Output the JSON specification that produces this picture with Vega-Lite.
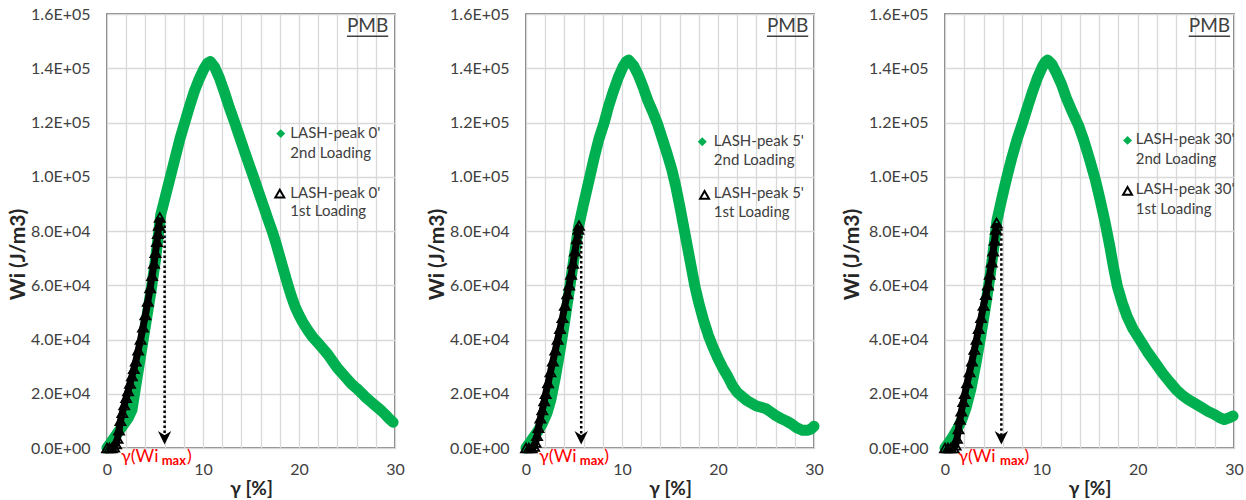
{
  "$schema": "https://vega.github.io/schema/vega-lite/v6.json",
  "padding": {"left": 6, "top": 5, "right": 0, "bottom": 0},
  "background": "white",
  "bounds": "flush",
  "spacing": 131,
  "config": {
    "font": "Lato, 'Open Sans', 'DejaVu Sans'",
    "view": {"stroke": "#595959", "strokeWidth": 1.5},
    "axis": {
      "grid": true, "gridColor": "#d9d9d9", "gridWidth": 1.3, "ticks": false, "domain": false,
      "labelFontSize": 16, "labelColor": "#404040", "labelOverlap": false, "labelFlush": false, "labelBound": false,
      "titleFontSize": 19, "titleFontWeight": "bold", "titleColor": "#262626"
    },
    "axisX": {"labelPadding": 13, "titlePadding": 2},
    "axisY": {"labelPadding": 17, "titleX": -89, "titleY": 240, "titleBaseline": "middle", "titleAngle": -90, "titleFontSize": 21}
  },
  "datasets": {
    "g1": [{"x":0,"y":0},{"x":0.3,"y":1500},{"x":0.7,"y":3500},{"x":1.2,"y":6000},{"x":1.7,"y":8500},{"x":2.2,"y":11000},{"x":2.6,"y":14000},{"x":3.0,"y":23000},{"x":3.5,"y":34000},{"x":4.0,"y":45000},{"x":4.5,"y":56000},{"x":5.0,"y":68000},{"x":5.3,"y":77000},{"x":5.6,"y":86000},{"x":6.1,"y":93000},{"x":6.6,"y":100000},{"x":7.1,"y":107000},{"x":7.6,"y":114000},{"x":8.1,"y":120000},{"x":8.6,"y":126000},{"x":9.1,"y":131500},{"x":9.6,"y":136000},{"x":10.1,"y":139800},{"x":10.45,"y":141800},{"x":10.75,"y":142500},{"x":11.2,"y":140500},{"x":11.7,"y":136500},{"x":12.2,"y":131500},{"x":12.75,"y":125500},{"x":13.3,"y":120000},{"x":13.8,"y":114800},{"x":14.3,"y":109600},{"x":14.8,"y":104500},{"x":15.3,"y":99500},{"x":15.8,"y":94300},{"x":16.3,"y":89200},{"x":16.8,"y":84000},{"x":17.2,"y":80000},{"x":17.6,"y":75500},{"x":18.0,"y":70500},{"x":18.4,"y":65500},{"x":18.85,"y":60000},{"x":19.2,"y":56000},{"x":19.6,"y":52000},{"x":20.0,"y":49000},{"x":20.4,"y":46300},{"x":20.9,"y":43500},{"x":21.4,"y":41000},{"x":21.9,"y":39000},{"x":22.4,"y":37000},{"x":23.0,"y":34500},{"x":23.5,"y":32000},{"x":24.0,"y":29500},{"x":24.5,"y":27500},{"x":25.0,"y":25500},{"x":25.5,"y":23500},{"x":26.0,"y":22000},{"x":26.5,"y":20300},{"x":27.0,"y":18500},{"x":27.5,"y":17000},{"x":28.0,"y":15500},{"x":28.5,"y":14000},{"x":29.0,"y":12300},{"x":29.4,"y":10800},{"x":29.8,"y":9500}],
    "b1": [{"x":0,"y":0},{"x":0.25,"y":0},{"x":0.5,"y":0},{"x":0.75,"y":300},{"x":0.95,"y":1500},{"x":1.1,"y":3500},{"x":1.25,"y":6500},{"x":1.4,"y":10000},{"x":1.6,"y":13000},{"x":1.8,"y":15800},{"x":2.0,"y":18500},{"x":2.2,"y":21000},{"x":2.4,"y":23800},{"x":2.6,"y":26500},{"x":2.8,"y":29200},{"x":3.0,"y":32000},{"x":3.25,"y":36000},{"x":3.5,"y":40000},{"x":3.75,"y":44500},{"x":4.0,"y":49000},{"x":4.25,"y":54000},{"x":4.5,"y":59000},{"x":4.7,"y":63500},{"x":4.9,"y":68000},{"x":5.05,"y":72000},{"x":5.2,"y":76000},{"x":5.3,"y":79000},{"x":5.4,"y":82000},{"x":5.5,"y":85000}],
    "g2": [{"x":0,"y":0},{"x":0.3,"y":1500},{"x":0.7,"y":3500},{"x":1.2,"y":6000},{"x":1.7,"y":9000},{"x":2.2,"y":13000},{"x":2.6,"y":18000},{"x":3.0,"y":25000},{"x":3.5,"y":35000},{"x":4.0,"y":46000},{"x":4.5,"y":58000},{"x":5.0,"y":70000},{"x":5.5,"y":82000},{"x":6.0,"y":90000},{"x":6.65,"y":100000},{"x":7.1,"y":107000},{"x":7.6,"y":114000},{"x":8.15,"y":120000},{"x":8.6,"y":126000},{"x":9.1,"y":131500},{"x":9.6,"y":136500},{"x":10.1,"y":140500},{"x":10.45,"y":142500},{"x":10.7,"y":143000},{"x":11.2,"y":141000},{"x":11.7,"y":137500},{"x":12.2,"y":133000},{"x":12.7,"y":128000},{"x":13.2,"y":124000},{"x":13.7,"y":119500},{"x":14.2,"y":114000},{"x":14.7,"y":108500},{"x":15.2,"y":102500},{"x":15.6,"y":96500},{"x":16.0,"y":89500},{"x":16.4,"y":82000},{"x":16.8,"y":74500},{"x":17.2,"y":67000},{"x":17.6,"y":59500},{"x":18.0,"y":53500},{"x":18.5,"y":47000},{"x":19.0,"y":41500},{"x":19.5,"y":37000},{"x":20.0,"y":33000},{"x":20.5,"y":29500},{"x":21.0,"y":26500},{"x":21.5,"y":23000},{"x":22.0,"y":20500},{"x":22.5,"y":19000},{"x":23.0,"y":17500},{"x":23.5,"y":16500},{"x":24.0,"y":15500},{"x":24.5,"y":15000},{"x":25.0,"y":14500},{"x":25.4,"y":13500},{"x":26.0,"y":12000},{"x":26.5,"y":11000},{"x":27.1,"y":10000},{"x":27.6,"y":9000},{"x":28.2,"y":7500},{"x":28.8,"y":6500},{"x":29.3,"y":6500},{"x":29.7,"y":7000},{"x":30.0,"y":8000}],
    "b2": [{"x":0,"y":0},{"x":0.3,"y":0},{"x":0.6,"y":0},{"x":0.85,"y":500},{"x":1.0,"y":2000},{"x":1.15,"y":4500},{"x":1.3,"y":7500},{"x":1.5,"y":11000},{"x":1.7,"y":14000},{"x":1.9,"y":17300},{"x":2.05,"y":20000},{"x":2.3,"y":24000},{"x":2.55,"y":28000},{"x":2.8,"y":32000},{"x":3.05,"y":36000},{"x":3.3,"y":40000},{"x":3.55,"y":44000},{"x":3.8,"y":48000},{"x":4.05,"y":52500},{"x":4.3,"y":56800},{"x":4.5,"y":60000},{"x":4.7,"y":64000},{"x":4.9,"y":68000},{"x":5.1,"y":72500},{"x":5.3,"y":77000},{"x":5.45,"y":80500},{"x":5.52,"y":82000}],
    "g3": [{"x":0,"y":0},{"x":0.3,"y":1500},{"x":0.7,"y":3500},{"x":1.2,"y":6500},{"x":1.7,"y":10000},{"x":2.2,"y":15000},{"x":2.7,"y":22000},{"x":3.2,"y":31000},{"x":3.7,"y":41000},{"x":4.2,"y":52000},{"x":4.7,"y":64000},{"x":5.1,"y":75000},{"x":5.4,"y":84000},{"x":5.9,"y":92000},{"x":6.43,"y":100000},{"x":6.9,"y":106500},{"x":7.5,"y":114000},{"x":8.07,"y":120000},{"x":8.6,"y":126000},{"x":9.1,"y":131500},{"x":9.6,"y":136500},{"x":10.1,"y":140500},{"x":10.4,"y":142300},{"x":10.65,"y":143000},{"x":11.1,"y":141500},{"x":11.6,"y":138000},{"x":12.1,"y":134000},{"x":12.6,"y":129000},{"x":13.2,"y":124000},{"x":13.85,"y":119000},{"x":14.4,"y":113500},{"x":15.0,"y":106500},{"x":15.6,"y":99000},{"x":16.1,"y":91500},{"x":16.6,"y":83500},{"x":17.1,"y":74500},{"x":17.5,"y":66500},{"x":17.9,"y":59500},{"x":18.4,"y":53500},{"x":18.9,"y":48500},{"x":19.5,"y":44000},{"x":20.3,"y":39500},{"x":21.0,"y":35500},{"x":21.8,"y":31500},{"x":22.6,"y":27500},{"x":23.4,"y":24000},{"x":24.0,"y":21500},{"x":24.6,"y":19500},{"x":25.2,"y":18000},{"x":25.9,"y":16500},{"x":26.6,"y":15000},{"x":27.3,"y":13500},{"x":28.0,"y":12300},{"x":28.5,"y":11200},{"x":29.0,"y":10500},{"x":29.4,"y":11000},{"x":29.9,"y":11800}],
    "b3": [{"x":0,"y":0},{"x":0.3,"y":0},{"x":0.6,"y":0},{"x":0.9,"y":0},{"x":1.1,"y":1000},{"x":1.25,"y":3500},{"x":1.4,"y":7000},{"x":1.55,"y":10500},{"x":1.7,"y":13500},{"x":1.9,"y":17000},{"x":2.06,"y":20000},{"x":2.3,"y":24000},{"x":2.55,"y":28000},{"x":2.8,"y":32000},{"x":3.05,"y":36300},{"x":3.27,"y":40000},{"x":3.5,"y":44000},{"x":3.75,"y":48000},{"x":4.0,"y":52500},{"x":4.25,"y":56500},{"x":4.46,"y":60000},{"x":4.65,"y":64000},{"x":4.85,"y":68500},{"x":5.0,"y":72500},{"x":5.15,"y":76500},{"x":5.28,"y":80500},{"x":5.36,"y":83000}],
    "arrow": [{"p":1,"x":6.0,"y":82000,"y2":3800},{"p":2,"x":5.75,"y":80000,"y2":3800},{"p":3,"x":5.85,"y":81000,"y2":3800}],
    "legsym": [{"p":1,"s":"2nd","x":18.1,"y":115900},{"p":1,"s":"1st","x":18.0,"y":93800},{"p":2,"s":"2nd","x":18.36,"y":112900},{"p":2,"s":"1st","x":18.6,"y":93300},{"p":3,"s":"2nd","x":18.95,"y":113400},{"p":3,"s":"1st","x":18.95,"y":94800}],
    "legtext": [
      {"p":1,"x":19.1,"y":114200,"t":"LASH-peak 0'"},{"p":1,"x":19.1,"y":107000,"t":"2nd Loading"},{"p":1,"x":19.1,"y":92300,"t":"LASH-peak 0'"},{"p":1,"x":19.1,"y":85500,"t":"1st Loading"},
      {"p":2,"x":19.57,"y":111300,"t":"LASH-peak 5'"},{"p":2,"x":19.57,"y":104300,"t":"2nd Loading"},{"p":2,"x":19.57,"y":92100,"t":"LASH-peak 5'"},{"p":2,"x":19.57,"y":85200,"t":"1st Loading"},
      {"p":3,"x":19.8,"y":112000,"t":"LASH-peak 30'"},{"p":3,"x":19.8,"y":104800,"t":"2nd Loading"},{"p":3,"x":19.8,"y":93500,"t":"LASH-peak 30'"},{"p":3,"x":19.8,"y":86300,"t":"1st Loading"}
    ],
    "pmb": [{"p":1,"x":29.3,"x2":25.0,"y":153500,"yu":151800,"t":"PMB"},{"p":2,"x":29.4,"x2":25.1,"y":153500,"yu":151800,"t":"PMB"},{"p":3,"x":29.6,"x2":25.3,"y":153500,"yu":151800,"t":"PMB"}],
    "redbig": [{"p":1,"x":1.46,"y":-5000,"t":"γ(Wi"},{"p":1,"x":8.33,"y":-5000,"t":")"},{"p":2,"x":1.36,"y":-5000,"t":"γ(Wi"},{"p":2,"x":8.15,"y":-5000,"t":")"},{"p":3,"x":1.37,"y":-5000,"t":"γ(Wi"},{"p":3,"x":8.25,"y":-5000,"t":")"}],
    "redsmall": [{"p":1,"x":5.7,"y":-6300,"t":"max"},{"p":2,"x":5.6,"y":-6300,"t":"max"},{"p":3,"x":5.72,"y":-6300,"t":"max"}]
  },
  "hconcat": [
    {
      "width": 288, "height": 434,
      "resolve": {"axis": {"x": "independent"}},
      "layer": [
        {"data": {"name": "g1"}, "mark": {"type": "line", "color": "#00b050", "strokeWidth": 11, "strokeJoin": "round", "strokeCap": "round"},
         "encoding": {
           "x": {"field": "x", "type": "quantitative", "scale": {"domain": [0, 30], "nice": false}, "axis": {"orient": "bottom", "title": null, "labels": false, "grid": true, "values": [0,2,4,6,8,10,12,14,16,18,20,22,24,26,28,30]}},
           "y": {"field": "y", "type": "quantitative", "scale": {"domain": [0, 160000], "nice": false}, "axis": {"title": "Wi (J/m3)", "labelOverlap": false, "values": [0,20000,40000,60000,80000,100000,120000,140000,160000], "labelExpr": "replace(upper(format(datum.value, '.1e')), 'E+', 'E+0')"}}
         }},
        {"data": {"name": "g1"}, "mark": {"type": "point", "shape": "diamond", "filled": true, "color": "#00b050", "opacity": 1, "size": 100},
         "encoding": {"x": {"field": "x", "type": "quantitative", "scale": {"domain": [0, 30], "nice": false}, "axis": {"orient": "bottom", "title": "γ [%]", "grid": false, "values": [0, 10, 20, 30]}}, "y": {"field": "y", "type": "quantitative", "scale": {"domain": [0, 160000], "nice": false}}}},
        {"data": {"name": "b1"}, "mark": {"type": "line", "color": "#000000", "strokeWidth": 7, "strokeJoin": "round"},
         "encoding": {"x": {"field": "x", "type": "quantitative", "scale": {"domain": [0, 30], "nice": false}, "axis": null}, "y": {"field": "y", "type": "quantitative", "scale": {"domain": [0, 160000], "nice": false}}}},
        {"data": {"name": "b1"}, "mark": {"type": "point", "shape": "triangle-up", "filled": false, "stroke": "#000000", "strokeWidth": 1.8, "opacity": 1, "size": 100},
         "encoding": {"x": {"field": "x", "type": "quantitative", "scale": {"domain": [0, 30], "nice": false}, "axis": null}, "y": {"field": "y", "type": "quantitative", "scale": {"domain": [0, 160000], "nice": false}}}},
        {"data": {"name": "arrow"}, "transform": [{"filter": "datum.p == 1"}], "mark": {"type": "rule", "color": "#000000", "strokeWidth": 2.5, "strokeDash": [2.5, 2.5]},
         "encoding": {"x": {"field": "x", "type": "quantitative", "scale": {"domain": [0, 30], "nice": false}, "axis": null}, "y": {"field": "y", "type": "quantitative", "scale": {"domain": [0, 160000], "nice": false}}, "y2": {"field": "y2"}}},
        {"data": {"name": "arrow"}, "transform": [{"filter": "datum.p == 1"}], "mark": {"type": "point", "shape": "M-1,-1L0,1L1,-1L0,-0.35Z", "filled": true, "color": "#000000", "opacity": 1, "size": 180},
         "encoding": {"x": {"field": "x", "type": "quantitative", "scale": {"domain": [0, 30], "nice": false}, "axis": null}, "y": {"field": "y2", "type": "quantitative", "scale": {"domain": [0, 160000], "nice": false}}}},
        {"data": {"name": "legsym"}, "transform": [{"filter": "datum.p == 1 && datum.s == '2nd'"}], "mark": {"type": "point", "shape": "diamond", "filled": true, "color": "#00b050", "opacity": 1, "size": 80},
         "encoding": {"x": {"field": "x", "type": "quantitative", "scale": {"domain": [0, 30], "nice": false}, "axis": null}, "y": {"field": "y", "type": "quantitative", "scale": {"domain": [0, 160000], "nice": false}}}},
        {"data": {"name": "legsym"}, "transform": [{"filter": "datum.p == 1 && datum.s == '1st'"}], "mark": {"type": "point", "shape": "triangle-up", "filled": false, "stroke": "#000000", "strokeWidth": 2, "opacity": 1, "size": 80},
         "encoding": {"x": {"field": "x", "type": "quantitative", "scale": {"domain": [0, 30], "nice": false}, "axis": null}, "y": {"field": "y", "type": "quantitative", "scale": {"domain": [0, 160000], "nice": false}}}},
        {"data": {"name": "legtext"}, "transform": [{"filter": "datum.p == 1"}], "mark": {"type": "text", "align": "left", "baseline": "alphabetic", "fontSize": 15, "color": "#404040"},
         "encoding": {"x": {"field": "x", "type": "quantitative", "scale": {"domain": [0, 30], "nice": false}, "axis": null}, "y": {"field": "y", "type": "quantitative", "scale": {"domain": [0, 160000], "nice": false}}, "text": {"field": "t"}}},
        {"data": {"name": "pmb"}, "transform": [{"filter": "datum.p == 1"}], "mark": {"type": "text", "align": "right", "baseline": "alphabetic", "fontSize": 19, "color": "#404040"},
         "encoding": {"x": {"field": "x", "type": "quantitative", "scale": {"domain": [0, 30], "nice": false}, "axis": null}, "y": {"field": "y", "type": "quantitative", "scale": {"domain": [0, 160000], "nice": false}}, "text": {"field": "t"}}},
        {"data": {"name": "pmb"}, "transform": [{"filter": "datum.p == 1"}], "mark": {"type": "rule", "color": "#404040", "strokeWidth": 1.3},
         "encoding": {"x": {"field": "x", "type": "quantitative", "scale": {"domain": [0, 30], "nice": false}, "axis": null}, "x2": {"field": "x2"}, "y": {"field": "yu", "type": "quantitative", "scale": {"domain": [0, 160000], "nice": false}}}},
        {"data": {"name": "redbig"}, "transform": [{"filter": "datum.p == 1"}], "mark": {"type": "text", "align": "left", "baseline": "alphabetic", "fontSize": 18, "color": "#ff0000"},
         "encoding": {"x": {"field": "x", "type": "quantitative", "scale": {"domain": [0, 30], "nice": false}, "axis": null}, "y": {"field": "y", "type": "quantitative", "scale": {"domain": [0, 160000], "nice": false}}, "text": {"field": "t"}}},
        {"data": {"name": "redsmall"}, "transform": [{"filter": "datum.p == 1"}], "mark": {"type": "text", "align": "left", "baseline": "alphabetic", "fontSize": 13, "fontWeight": "bold", "color": "#ff0000"},
         "encoding": {"x": {"field": "x", "type": "quantitative", "scale": {"domain": [0, 30], "nice": false}, "axis": null}, "y": {"field": "y", "type": "quantitative", "scale": {"domain": [0, 160000], "nice": false}}, "text": {"field": "t"}}}
      ]
    },
    {
      "width": 288, "height": 434,
      "resolve": {"axis": {"x": "independent"}},
      "layer": [
        {"data": {"name": "g2"}, "mark": {"type": "line", "color": "#00b050", "strokeWidth": 11, "strokeJoin": "round", "strokeCap": "round"},
         "encoding": {
           "x": {"field": "x", "type": "quantitative", "scale": {"domain": [0, 30], "nice": false}, "axis": {"orient": "bottom", "title": null, "labels": false, "grid": true, "values": [0,2,4,6,8,10,12,14,16,18,20,22,24,26,28,30]}},
           "y": {"field": "y", "type": "quantitative", "scale": {"domain": [0, 160000], "nice": false}, "axis": {"title": "Wi (J/m3)", "labelOverlap": false, "values": [0,20000,40000,60000,80000,100000,120000,140000,160000], "labelExpr": "replace(upper(format(datum.value, '.1e')), 'E+', 'E+0')"}}
         }},
        {"data": {"name": "g2"}, "mark": {"type": "point", "shape": "diamond", "filled": true, "color": "#00b050", "opacity": 1, "size": 100},
         "encoding": {"x": {"field": "x", "type": "quantitative", "scale": {"domain": [0, 30], "nice": false}, "axis": {"orient": "bottom", "title": "γ [%]", "grid": false, "values": [0, 10, 20, 30]}}, "y": {"field": "y", "type": "quantitative", "scale": {"domain": [0, 160000], "nice": false}}}},
        {"data": {"name": "b2"}, "mark": {"type": "line", "color": "#000000", "strokeWidth": 7, "strokeJoin": "round"},
         "encoding": {"x": {"field": "x", "type": "quantitative", "scale": {"domain": [0, 30], "nice": false}, "axis": null}, "y": {"field": "y", "type": "quantitative", "scale": {"domain": [0, 160000], "nice": false}}}},
        {"data": {"name": "b2"}, "mark": {"type": "point", "shape": "triangle-up", "filled": false, "stroke": "#000000", "strokeWidth": 1.8, "opacity": 1, "size": 100},
         "encoding": {"x": {"field": "x", "type": "quantitative", "scale": {"domain": [0, 30], "nice": false}, "axis": null}, "y": {"field": "y", "type": "quantitative", "scale": {"domain": [0, 160000], "nice": false}}}},
        {"data": {"name": "arrow"}, "transform": [{"filter": "datum.p == 2"}], "mark": {"type": "rule", "color": "#000000", "strokeWidth": 2.5, "strokeDash": [2.5, 2.5]},
         "encoding": {"x": {"field": "x", "type": "quantitative", "scale": {"domain": [0, 30], "nice": false}, "axis": null}, "y": {"field": "y", "type": "quantitative", "scale": {"domain": [0, 160000], "nice": false}}, "y2": {"field": "y2"}}},
        {"data": {"name": "arrow"}, "transform": [{"filter": "datum.p == 2"}], "mark": {"type": "point", "shape": "M-1,-1L0,1L1,-1L0,-0.35Z", "filled": true, "color": "#000000", "opacity": 1, "size": 180},
         "encoding": {"x": {"field": "x", "type": "quantitative", "scale": {"domain": [0, 30], "nice": false}, "axis": null}, "y": {"field": "y2", "type": "quantitative", "scale": {"domain": [0, 160000], "nice": false}}}},
        {"data": {"name": "legsym"}, "transform": [{"filter": "datum.p == 2 && datum.s == '2nd'"}], "mark": {"type": "point", "shape": "diamond", "filled": true, "color": "#00b050", "opacity": 1, "size": 80},
         "encoding": {"x": {"field": "x", "type": "quantitative", "scale": {"domain": [0, 30], "nice": false}, "axis": null}, "y": {"field": "y", "type": "quantitative", "scale": {"domain": [0, 160000], "nice": false}}}},
        {"data": {"name": "legsym"}, "transform": [{"filter": "datum.p == 2 && datum.s == '1st'"}], "mark": {"type": "point", "shape": "triangle-up", "filled": false, "stroke": "#000000", "strokeWidth": 2, "opacity": 1, "size": 80},
         "encoding": {"x": {"field": "x", "type": "quantitative", "scale": {"domain": [0, 30], "nice": false}, "axis": null}, "y": {"field": "y", "type": "quantitative", "scale": {"domain": [0, 160000], "nice": false}}}},
        {"data": {"name": "legtext"}, "transform": [{"filter": "datum.p == 2"}], "mark": {"type": "text", "align": "left", "baseline": "alphabetic", "fontSize": 15, "color": "#404040"},
         "encoding": {"x": {"field": "x", "type": "quantitative", "scale": {"domain": [0, 30], "nice": false}, "axis": null}, "y": {"field": "y", "type": "quantitative", "scale": {"domain": [0, 160000], "nice": false}}, "text": {"field": "t"}}},
        {"data": {"name": "pmb"}, "transform": [{"filter": "datum.p == 2"}], "mark": {"type": "text", "align": "right", "baseline": "alphabetic", "fontSize": 19, "color": "#404040"},
         "encoding": {"x": {"field": "x", "type": "quantitative", "scale": {"domain": [0, 30], "nice": false}, "axis": null}, "y": {"field": "y", "type": "quantitative", "scale": {"domain": [0, 160000], "nice": false}}, "text": {"field": "t"}}},
        {"data": {"name": "pmb"}, "transform": [{"filter": "datum.p == 2"}], "mark": {"type": "rule", "color": "#404040", "strokeWidth": 1.3},
         "encoding": {"x": {"field": "x", "type": "quantitative", "scale": {"domain": [0, 30], "nice": false}, "axis": null}, "x2": {"field": "x2"}, "y": {"field": "yu", "type": "quantitative", "scale": {"domain": [0, 160000], "nice": false}}}},
        {"data": {"name": "redbig"}, "transform": [{"filter": "datum.p == 2"}], "mark": {"type": "text", "align": "left", "baseline": "alphabetic", "fontSize": 18, "color": "#ff0000"},
         "encoding": {"x": {"field": "x", "type": "quantitative", "scale": {"domain": [0, 30], "nice": false}, "axis": null}, "y": {"field": "y", "type": "quantitative", "scale": {"domain": [0, 160000], "nice": false}}, "text": {"field": "t"}}},
        {"data": {"name": "redsmall"}, "transform": [{"filter": "datum.p == 2"}], "mark": {"type": "text", "align": "left", "baseline": "alphabetic", "fontSize": 13, "fontWeight": "bold", "color": "#ff0000"},
         "encoding": {"x": {"field": "x", "type": "quantitative", "scale": {"domain": [0, 30], "nice": false}, "axis": null}, "y": {"field": "y", "type": "quantitative", "scale": {"domain": [0, 160000], "nice": false}}, "text": {"field": "t"}}}
      ]
    },
    {
      "width": 289, "height": 434,
      "resolve": {"axis": {"x": "independent"}},
      "layer": [
        {"data": {"name": "g3"}, "mark": {"type": "line", "color": "#00b050", "strokeWidth": 11, "strokeJoin": "round", "strokeCap": "round"},
         "encoding": {
           "x": {"field": "x", "type": "quantitative", "scale": {"domain": [0, 30], "nice": false}, "axis": {"orient": "bottom", "title": null, "labels": false, "grid": true, "values": [0,2,4,6,8,10,12,14,16,18,20,22,24,26,28,30]}},
           "y": {"field": "y", "type": "quantitative", "scale": {"domain": [0, 160000], "nice": false}, "axis": {"title": "Wi (J/m3)", "titleX": -93, "labelOverlap": false, "values": [0,20000,40000,60000,80000,100000,120000,140000,160000], "labelExpr": "replace(upper(format(datum.value, '.1e')), 'E+', 'E+0')"}}
         }},
        {"data": {"name": "g3"}, "mark": {"type": "point", "shape": "diamond", "filled": true, "color": "#00b050", "opacity": 1, "size": 100},
         "encoding": {"x": {"field": "x", "type": "quantitative", "scale": {"domain": [0, 30], "nice": false}, "axis": {"orient": "bottom", "title": "γ [%]", "grid": false, "values": [0, 10, 20, 30]}}, "y": {"field": "y", "type": "quantitative", "scale": {"domain": [0, 160000], "nice": false}}}},
        {"data": {"name": "b3"}, "mark": {"type": "line", "color": "#000000", "strokeWidth": 7, "strokeJoin": "round"},
         "encoding": {"x": {"field": "x", "type": "quantitative", "scale": {"domain": [0, 30], "nice": false}, "axis": null}, "y": {"field": "y", "type": "quantitative", "scale": {"domain": [0, 160000], "nice": false}}}},
        {"data": {"name": "b3"}, "mark": {"type": "point", "shape": "triangle-up", "filled": false, "stroke": "#000000", "strokeWidth": 1.8, "opacity": 1, "size": 100},
         "encoding": {"x": {"field": "x", "type": "quantitative", "scale": {"domain": [0, 30], "nice": false}, "axis": null}, "y": {"field": "y", "type": "quantitative", "scale": {"domain": [0, 160000], "nice": false}}}},
        {"data": {"name": "arrow"}, "transform": [{"filter": "datum.p == 3"}], "mark": {"type": "rule", "color": "#000000", "strokeWidth": 2.5, "strokeDash": [2.5, 2.5]},
         "encoding": {"x": {"field": "x", "type": "quantitative", "scale": {"domain": [0, 30], "nice": false}, "axis": null}, "y": {"field": "y", "type": "quantitative", "scale": {"domain": [0, 160000], "nice": false}}, "y2": {"field": "y2"}}},
        {"data": {"name": "arrow"}, "transform": [{"filter": "datum.p == 3"}], "mark": {"type": "point", "shape": "M-1,-1L0,1L1,-1L0,-0.35Z", "filled": true, "color": "#000000", "opacity": 1, "size": 180},
         "encoding": {"x": {"field": "x", "type": "quantitative", "scale": {"domain": [0, 30], "nice": false}, "axis": null}, "y": {"field": "y2", "type": "quantitative", "scale": {"domain": [0, 160000], "nice": false}}}},
        {"data": {"name": "legsym"}, "transform": [{"filter": "datum.p == 3 && datum.s == '2nd'"}], "mark": {"type": "point", "shape": "diamond", "filled": true, "color": "#00b050", "opacity": 1, "size": 80},
         "encoding": {"x": {"field": "x", "type": "quantitative", "scale": {"domain": [0, 30], "nice": false}, "axis": null}, "y": {"field": "y", "type": "quantitative", "scale": {"domain": [0, 160000], "nice": false}}}},
        {"data": {"name": "legsym"}, "transform": [{"filter": "datum.p == 3 && datum.s == '1st'"}], "mark": {"type": "point", "shape": "triangle-up", "filled": false, "stroke": "#000000", "strokeWidth": 2, "opacity": 1, "size": 80},
         "encoding": {"x": {"field": "x", "type": "quantitative", "scale": {"domain": [0, 30], "nice": false}, "axis": null}, "y": {"field": "y", "type": "quantitative", "scale": {"domain": [0, 160000], "nice": false}}}},
        {"data": {"name": "legtext"}, "transform": [{"filter": "datum.p == 3"}], "mark": {"type": "text", "align": "left", "baseline": "alphabetic", "fontSize": 15, "color": "#404040"},
         "encoding": {"x": {"field": "x", "type": "quantitative", "scale": {"domain": [0, 30], "nice": false}, "axis": null}, "y": {"field": "y", "type": "quantitative", "scale": {"domain": [0, 160000], "nice": false}}, "text": {"field": "t"}}},
        {"data": {"name": "pmb"}, "transform": [{"filter": "datum.p == 3"}], "mark": {"type": "text", "align": "right", "baseline": "alphabetic", "fontSize": 19, "color": "#404040"},
         "encoding": {"x": {"field": "x", "type": "quantitative", "scale": {"domain": [0, 30], "nice": false}, "axis": null}, "y": {"field": "y", "type": "quantitative", "scale": {"domain": [0, 160000], "nice": false}}, "text": {"field": "t"}}},
        {"data": {"name": "pmb"}, "transform": [{"filter": "datum.p == 3"}], "mark": {"type": "rule", "color": "#404040", "strokeWidth": 1.3},
         "encoding": {"x": {"field": "x", "type": "quantitative", "scale": {"domain": [0, 30], "nice": false}, "axis": null}, "x2": {"field": "x2"}, "y": {"field": "yu", "type": "quantitative", "scale": {"domain": [0, 160000], "nice": false}}}},
        {"data": {"name": "redbig"}, "transform": [{"filter": "datum.p == 3"}], "mark": {"type": "text", "align": "left", "baseline": "alphabetic", "fontSize": 18, "color": "#ff0000"},
         "encoding": {"x": {"field": "x", "type": "quantitative", "scale": {"domain": [0, 30], "nice": false}, "axis": null}, "y": {"field": "y", "type": "quantitative", "scale": {"domain": [0, 160000], "nice": false}}, "text": {"field": "t"}}},
        {"data": {"name": "redsmall"}, "transform": [{"filter": "datum.p == 3"}], "mark": {"type": "text", "align": "left", "baseline": "alphabetic", "fontSize": 13, "fontWeight": "bold", "color": "#ff0000"},
         "encoding": {"x": {"field": "x", "type": "quantitative", "scale": {"domain": [0, 30], "nice": false}, "axis": null}, "y": {"field": "y", "type": "quantitative", "scale": {"domain": [0, 160000], "nice": false}}, "text": {"field": "t"}}}
      ]
    }
  ]
}
